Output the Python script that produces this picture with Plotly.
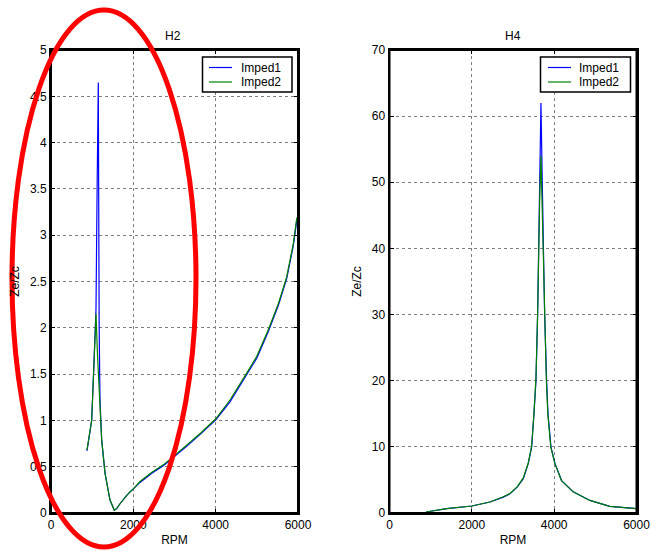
import plotly.graph_objects as go

# ---- Data ----
h2_rpm_1 = [874, 988, 1028, 1060, 1093, 1120, 1149, 1170, 1190, 1231, 1312, 1433, 1538, 1600, 1676, 1838,
            1919, 2000, 2162, 2450, 2728, 3000, 3295, 3650, 4008, 4348, 4754, 4996, 5279, 5522, 5725, 5887, 5968, 6000]
h2_imp_1 = [0.67, 1.0, 1.44, 1.8, 2.2, 3.5, 4.65, 2.0, 1.22, 0.79, 0.43, 0.14, 0.03, 0.05, 0.10, 0.19,
            0.23, 0.26, 0.33, 0.43, 0.51, 0.61, 0.72, 0.86, 1.01, 1.20, 1.49, 1.67, 1.96, 2.24, 2.53, 2.89, 3.15, 3.17]
h2_rpm_2 = [874, 988, 1028, 1060, 1093, 1130, 1170, 1200, 1231, 1312, 1433, 1538, 1600, 1676, 1838,
            1919, 2000, 2162, 2450, 2728, 3000, 3295, 3650, 4008, 4348, 4754, 4996, 5279, 5522, 5725, 5887, 5968, 6000]
h2_imp_2 = [0.68, 1.0, 1.44, 1.8, 2.15, 1.7, 1.3, 1.05, 0.79, 0.43, 0.14, 0.03, 0.05, 0.10, 0.19,
            0.23, 0.26, 0.34, 0.44, 0.52, 0.62, 0.73, 0.87, 1.02, 1.22, 1.51, 1.69, 1.98, 2.26, 2.55, 2.91, 3.18, 3.2]

h4_rpm_1 = [888, 1391, 2000, 2441, 2765, 2927, 3100, 3250, 3372, 3453, 3510, 3558, 3598, 3623, 3647, 3679,
            3711, 3736, 3768, 3817, 3850, 3922, 4019, 4181, 4463, 4868, 5353, 6000]
h4_imp_1 = [0.15, 0.66, 1.06, 1.66, 2.4, 2.9, 3.9, 5.2, 7.5, 10, 15, 20, 30, 40, 50, 62,
            50, 40, 30, 20, 15, 10, 7.5, 4.9, 3.2, 1.9, 1.0, 0.66]
h4_rpm_2 = [888, 1391, 2000, 2441, 2765, 2927, 3100, 3250, 3372, 3453, 3510, 3558, 3598, 3623, 3647, 3679,
            3705, 3730, 3762, 3810, 3845, 3917, 4015, 4178, 4460, 4865, 5350, 6000]
h4_imp_2 = [0.15, 0.66, 1.06, 1.66, 2.45, 2.95, 3.95, 5.3, 7.6, 10.1, 15.2, 20.5, 30, 40, 47, 54,
            47, 40, 30, 20, 15, 10, 7.5, 4.9, 3.2, 1.9, 1.0, 0.66]

x_ticks = [0, 2000, 4000, 6000]
h2_yticks = [0, 0.5, 1, 1.5, 2, 2.5, 3, 3.5, 4, 4.5, 5]
h4_yticks = [0, 10, 20, 30, 40, 50, 60, 70]
series_names = ["Imped1", "Imped2"]
panel_titles = ["H2", "H4"]

BLUE = "#0000ff"
GREEN = "#008000"
COLORS = [BLUE, GREEN]
FONT = dict(family="Liberation Sans, Arial, sans-serif", size=12, color="#000000")

fig = go.Figure()
for (xs, ys, c, n, xa, ya) in [
    (h2_rpm_1, h2_imp_1, BLUE, series_names[0], "x", "y"),
    (h2_rpm_2, h2_imp_2, GREEN, series_names[1], "x", "y"),
    (h4_rpm_1, h4_imp_1, BLUE, series_names[0], "x2", "y2"),
    (h4_rpm_2, h4_imp_2, GREEN, series_names[1], "x2", "y2"),
]:
    fig.add_trace(go.Scatter(x=xs, y=ys, mode="lines", name=n, showlegend=False,
                             line=dict(color=c, width=1.2), xaxis=xa, yaxis=ya))

W, H = 650, 552
def px_x(p): return p / W
def px_y(p): return 1 - p / H

ydom = [px_y(513), px_y(50)]
axis_common = dict(showline=True, linecolor="#000000", linewidth=2, mirror="ticks",
                   ticks="inside", ticklen=4, tickcolor="#000000", tickwidth=1,
                   showgrid=True, gridcolor="#808080", griddash="dot", gridwidth=1,
                   zeroline=False, tickfont=FONT, automargin=False,
                   ticklabeloverflow="allow")

shapes = [
    dict(type="rect", xref="x domain", yref="y domain", x0=0, x1=1, y0=0, y1=1,
         line=dict(color="#000000", width=2), layer="above"),
    dict(type="rect", xref="x2 domain", yref="y2 domain", x0=0, x1=1, y0=0, y1=1,
         line=dict(color="#000000", width=2), layer="above"),
]
annotations = [
    dict(text=panel_titles[0], x=px_x(173), y=px_y(36), xref="paper", yref="paper",
         xanchor="center", yanchor="middle", showarrow=False, font=FONT),
    dict(text=panel_titles[1], x=px_x(513), y=px_y(36), xref="paper", yref="paper",
         xanchor="center", yanchor="middle", showarrow=False, font=FONT),
]

# legends (box + line samples + text), one per panel
for (bx0, bx1, sx0, sx1, tx) in [(202.5, 292, 209, 232, 239), (540.5, 630.5, 548, 571, 577)]:
    shapes.append(dict(type="rect", xref="paper", yref="paper",
                       x0=px_x(bx0), x1=px_x(bx1), y0=px_y(92), y1=px_y(57),
                       fillcolor="#ffffff", line=dict(color="#000000", width=1.5), layer="above"))
    for i, (name, col) in enumerate(zip(series_names, COLORS)):
        yy = 67.5 + i * 14.5
        shapes.append(dict(type="line", xref="paper", yref="paper",
                           x0=px_x(sx0), x1=px_x(sx1), y0=px_y(yy), y1=px_y(yy),
                           line=dict(color=col, width=1.2), layer="above"))
        annotations.append(dict(text=name, x=px_x(tx), y=px_y(yy), xref="paper", yref="paper",
                                xanchor="left", yanchor="middle", showarrow=False, font=FONT))

shapes.append(dict(type="circle", xref="paper", yref="paper",
                   x0=px_x(12), x1=px_x(196), y0=px_y(547), y1=px_y(10),
                   line=dict(color="#ff0000", width=5), layer="above"))

fig.update_layout(
    width=W, height=H,
    margin=dict(l=0, r=0, t=0, b=0, autoexpand=False),
    paper_bgcolor="#ffffff", plot_bgcolor="#ffffff",
    font=FONT, showlegend=False,
    xaxis=dict(domain=[px_x(51), px_x(298)], range=[0, 6000], tickvals=x_ticks,
               title=dict(text="RPM", font=FONT, standoff=4), anchor="y", **axis_common),
    yaxis=dict(domain=ydom, range=[0, 5], tickvals=h2_yticks,
               title=dict(text="Ze/Zc", font=FONT, standoff=8), anchor="x", **axis_common),
    xaxis2=dict(domain=[px_x(389.5), px_x(636.5)], range=[0, 6000], tickvals=x_ticks,
                title=dict(text="RPM", font=FONT, standoff=4), anchor="y2", **axis_common),
    yaxis2=dict(domain=ydom, range=[0, 70], tickvals=h4_yticks,
                title=dict(text="Ze/Zc", font=FONT, standoff=8), anchor="x2", **axis_common),
    annotations=annotations,
    shapes=shapes,
)

fig.write_html("out.html")
